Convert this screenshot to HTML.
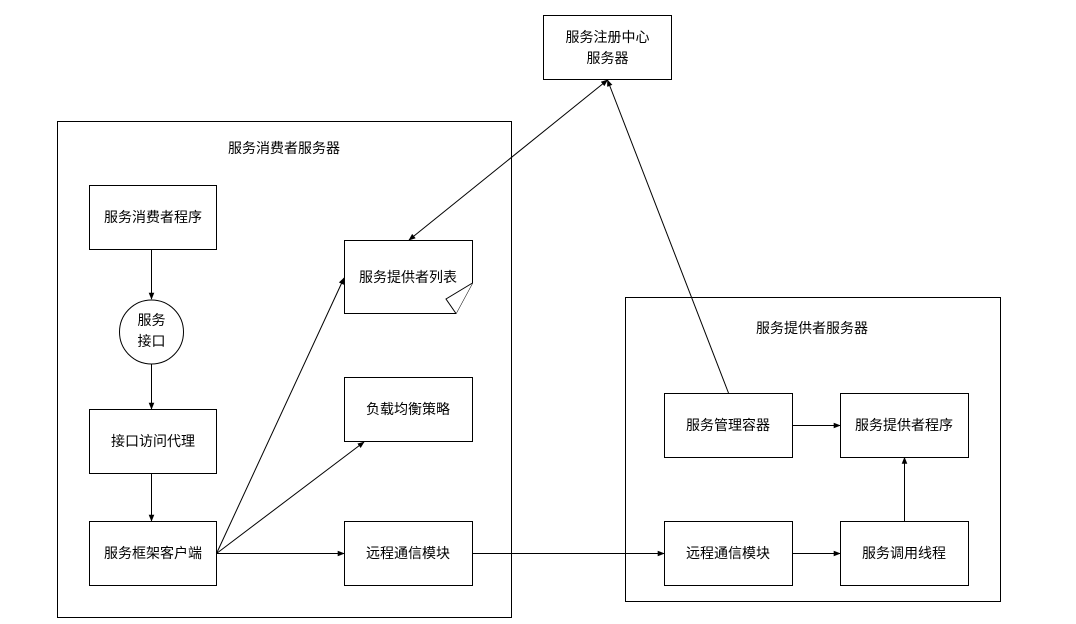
<!DOCTYPE html>
<html><head><meta charset="utf-8"><style>
html,body{margin:0;padding:0;background:#fff;}
svg{display:block;}
text{font-family:"Liberation Sans","Noto Sans CJK SC",sans-serif;font-size:14px;fill:#000;}
</style></head><body>
<svg width="1076" height="624" viewBox="0 0 1076 624" xmlns="http://www.w3.org/2000/svg">
<defs><marker id="a" viewBox="0 0 10 10" refX="9" refY="5" markerWidth="7" markerHeight="7" orient="auto-start-reverse"><path d="M0,1 L10,5 L0,9 Z" fill="#000"/></marker></defs>
<g fill="#fff" stroke="#000" stroke-width="1">
<rect x="543.5" y="15.5" width="128" height="64"/>
<rect x="57.5" y="121.5" width="454" height="496"/>
<rect x="625.5" y="297.5" width="375" height="304"/>
<rect x="89.5" y="185.5" width="127" height="64"/>
<circle cx="151.5" cy="332" r="32"/>
<rect x="89.5" y="409.5" width="127" height="64"/>
<rect x="89.5" y="521.5" width="127" height="64"/>
<path d="M344.5,240.5 H472.5 V283 L456,313.5 H344.5 Z"/>
<path d="M472.5,283 L446,299 L456,313.5"/>
<rect x="344.5" y="377.5" width="128" height="64"/>
<rect x="344.5" y="521.5" width="128" height="64"/>
<rect x="664.5" y="393.5" width="128" height="64"/>
<rect x="840.5" y="393.5" width="128" height="64"/>
<rect x="664.5" y="521.5" width="128" height="64"/>
<rect x="840.5" y="521.5" width="128" height="64"/>
</g>
<g stroke="#000" stroke-width="1" fill="none" marker-end="url(#a)">
<line x1="151.5" y1="250" x2="151.5" y2="299"/>
<line x1="151.5" y1="364" x2="151.5" y2="409"/>
<line x1="151.5" y1="474" x2="151.5" y2="521"/>
<line x1="216.5" y1="553.5" x2="344" y2="278" />
<line x1="216.5" y1="553.5" x2="364" y2="442"/>
<line x1="216.5" y1="553.5" x2="344" y2="553.5"/>
<line x1="472.5" y1="553.5" x2="664" y2="553.5"/>
<line x1="792.5" y1="553.5" x2="840" y2="553.5"/>
<line x1="904.5" y1="521" x2="904.5" y2="457.5"/>
<line x1="792.5" y1="425.5" x2="840" y2="425.5"/>
<line x1="728.5" y1="393" x2="607.5" y2="80"/>
<line x1="409" y1="240" x2="607.5" y2="80" marker-start="url(#a)"/>
</g>
<g text-anchor="middle">
<text x="607.5" y="42">服务注册中心</text>
<text x="607.5" y="63">服务器</text>
<text x="284" y="153">服务消费者服务器</text>
<text x="812" y="333">服务提供者服务器</text>
<text x="153" y="222">服务消费者程序</text>
<text x="151.5" y="325">服务</text>
<text x="151.5" y="346">接口</text>
<text x="153" y="446">接口访问代理</text>
<text x="153" y="558">服务框架客户端</text>
<text x="408" y="282">服务提供者列表</text>
<text x="408" y="414">负载均衡策略</text>
<text x="408" y="558">远程通信模块</text>
<text x="728" y="430">服务管理容器</text>
<text x="904" y="430">服务提供者程序</text>
<text x="728" y="558">远程通信模块</text>
<text x="904" y="558">服务调用线程</text>
</g>
</svg>
</body></html>
